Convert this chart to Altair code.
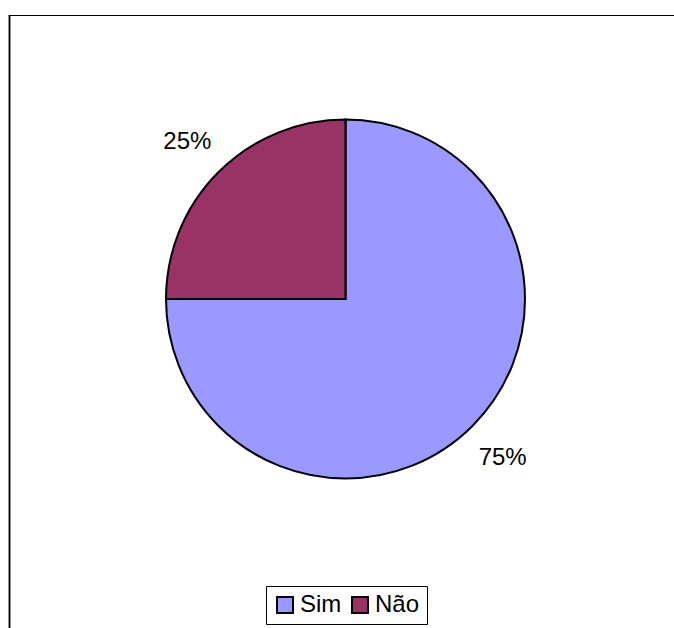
import altair as alt
import pandas as pd

categories = ["Sim", "Não"]
values = [75, 25]
pct_labels = ["75%", "25%"]
colors = ["#9999FF", "#993366"]

df = pd.DataFrame({"cat": categories, "val": values, "lab": pct_labels, "idx": [0, 1]})

CX, CY = 345.5, 299

base = alt.Chart(df).encode(
    theta=alt.Theta("val:Q", stack=True),
    order=alt.Order("idx:Q"),
)

pie = base.mark_arc(radius=179.5, stroke="black", strokeWidth=2).encode(
    x=alt.value(CX),
    y=alt.value(CY),
    fill=alt.Fill(
        "cat:N",
        scale=alt.Scale(domain=categories, range=colors),
        sort=categories,
        legend=alt.Legend(
            title=None,
            orient="none",
            legendX=266,
            legendY=586,
            direction="horizontal",
            strokeColor="black",
            padding=7,
            symbolType="square",
            symbolSize=256,
            symbolStrokeColor="black",
            symbolStrokeWidth=2,
            symbolOpacity=1,
            labelFont="Liberation Sans",
            labelFontSize=24,
            labelColor="black",
            labelOffset=3,
            columnPadding=6,
            labelLimit=200,
        ),
    ),
)

text = base.mark_text(radius=223, font="Liberation Sans", fontSize=24, color="black").encode(
    x=alt.value(CX - 0.5),
    y=alt.value(CY + 1),
    text="lab:N",
)

top_line = alt.Chart(df).mark_rule(color="black", strokeWidth=1).encode(
    x=alt.value(9), x2=alt.value(680), y=alt.value(15.5)
)
left_line = alt.Chart(df).mark_rule(color="black", strokeWidth=1.5).encode(
    x=alt.value(9.5), y=alt.value(15), y2=alt.value(640)
)

chart = alt.layer(top_line, left_line, pie, text).properties(
    width=674, height=628, padding=0, autosize=alt.AutoSizeParams(type="none"),
    background="white",
).configure_view(stroke=None)

chart.save("out.html", embed_options={"renderer": "svg", "actions": False})
